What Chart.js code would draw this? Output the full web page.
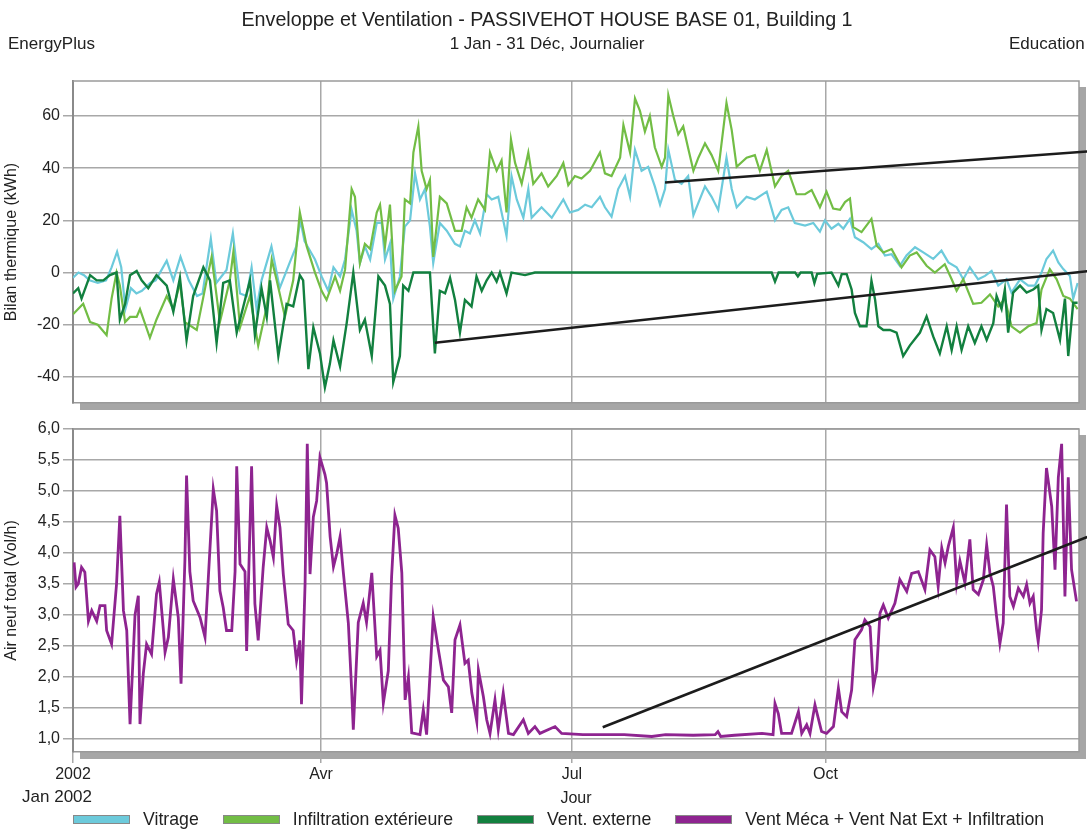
<!DOCTYPE html>
<html>
<head>
<meta charset="utf-8">
<script src="https://cdn.jsdelivr.net/npm/chart.js@4.4.1/dist/chart.umd.min.js"></script>
<style>
  body { margin: 0; background: #fff; font-family: "Liberation Sans", Arial, sans-serif; color: #222; }
  #wrap { position: relative; width: 1087px; height: 831px; overflow: hidden; }
  canvas { position: absolute; left: 0; top: 0; }
  .txt { position: absolute; white-space: nowrap; z-index: 2; }
  #title { top: 8px; left: 547px; transform: translateX(-50%); font-size: 19.7px; }
  #sub1 { top: 34px; left: 8px; font-size: 17px; }
  #sub2 { top: 34px; left: 547px; transform: translateX(-50%); font-size: 17px; }
  #sub3 { top: 34px; left: 1009px; font-size: 17px; }
  #jan { top: 787px; right: 995px; font-size: 17px; }
  #legend { position: absolute; top: 809px; left: 73px; display: flex; align-items: center; font-size: 17.7px; z-index: 2; }
  #legend .item { display: flex; align-items: center; margin-right: 24px; }
  #legend .box { width: 55px; height: 7px; border: 1px solid #888; margin-right: 13px; }
</style>
</head>
<body>
<div id="wrap">
  <canvas id="bottom" width="1087" height="831"></canvas>
  <canvas id="top" width="1087" height="831"></canvas>
  <div class="txt" id="title">Enveloppe et Ventilation - PASSIVEHOT HOUSE BASE 01, Building 1</div>
  <div class="txt" id="sub1">EnergyPlus</div>
  <div class="txt" id="sub2">1 Jan - 31 Déc, Journalier</div>
  <div class="txt" id="sub3">Education</div>
  <div class="txt" id="jan">Jan 2002</div>
  <div id="legend"></div>
</div>
<script>
// day of year, value
const tickDays = [0, 90, 181, 273];
const tickLabels = ['2002', 'Avr', 'Jul', 'Oct'];
const topTicks = [-40, -20, 0, 20, 40, 60];
const bottomTicks = [1, 1.5, 2, 2.5, 3, 3.5, 4, 4.5, 5, 5.5, 6];
const seriesNames = ['Vitrage', 'Infiltration extérieure', 'Vent. externe', 'Vent Méca + Vent Nat Ext + Infiltration'];
const seriesColors = ['#6ccadb', '#72bd45', '#12803f', '#8e2490'];

const vitrage = [[0,-2],[2,0],[4,-1],[6,-3],[9,-4],[12,-3],[14,2],[16,8],[17.5,2],[19,-14],[21,-6],[23,-8],[25,-7],[28,-4],[30,-3],[34,4.5],[36.4,-3],[39,6],[42,-3],[45,-9],[47,-8],[50,13],[52,-4],[55.7,1],[58,15],[60.6,-8],[63,-9],[64.8,2],[66.6,-14],[68.4,-3],[72,10],[75,-6],[78.7,4],[81,10],[82.5,20],[84,12],[87.8,5],[90.2,-1.5],[92.6,-7],[94.5,2],[96.9,-1.5],[98.7,5],[101.1,24],[102.9,16],[104.1,3.6],[105.9,10],[107.8,5],[110.2,19],[112,19],[113.2,5],[115,11],[116.2,-10],[118.6,-1.5],[120.4,17.6],[122.3,20],[124.1,38],[125.9,28],[127.7,32],[129.5,17.6],[130.7,3.6],[133.1,19],[135.6,16],[138.6,11],[140.4,10],[142.2,16],[144,15],[145.8,20],[147.7,15],[150.1,30],[151.9,28],[154.3,29],[157.3,14],[159.1,37],[161,28],[163.4,21],[165.2,32],[166.4,21],[170,25],[173.7,21],[177.9,28],[180.3,23],[183.3,24],[185.8,26],[188.2,25],[191.2,29],[193,25],[195.4,21.4],[197.8,32],[200.3,37],[202.1,29],[203.9,47],[206.3,39],[208.7,40.5],[211.1,33],[213,26],[214.8,32],[216,47],[218.4,35.5],[220.8,34],[223.2,37],[225.1,22],[229.3,33],[231.7,29],[234.1,24],[237.1,44],[239,32],[240.8,25],[244.4,29],[247.4,28],[251.7,31],[254.7,20],[257.1,24],[259.5,25],[261.9,19],[265.6,18],[268.6,19],[271,15.7],[272.8,20],[275.2,16.8],[277.7,18.7],[279.5,16.8],[281.9,20.6],[283.7,13.5],[286.7,11.6],[289.7,9],[292.2,11],[294.6,6.5],[297,7],[300,2.6],[302.4,6.5],[305.5,9.7],[308.5,7.7],[312.1,5.2],[315.1,8.4],[317.6,3.9],[320.6,2],[323,-2.6],[325.4,2],[328.4,-2.6],[330.9,-1.3],[333.3,0.6],[335.7,-5],[338.7,-2.6],[340.5,-7.7],[343.6,-2.6],[346.6,-5],[349,-5],[351.4,0],[353.2,5.2],[355.6,8.4],[357.5,3.9],[359.3,1.3],[361.7,-1.3],[362.9,-10],[364.5,-4]];

const infiltration = [[0,-16],[3.7,-12],[6.2,-19],[9,-20],[12.2,-24],[14,-10],[15.8,0],[17,-5],[18.9,-19],[20.7,-17],[23.1,-17],[24.3,-14],[27.9,-25],[30.3,-18],[34,-9],[36.4,-14],[38.8,-4],[40.6,-19],[44.9,-22],[48.5,-3],[50.3,6],[53.3,-19],[56.9,-3],[58.2,8],[60.6,-21],[64.2,-9],[67.2,-28],[70.3,-13],[72.1,5],[73.9,-3],[76.9,-17],[79.9,-3],[82.3,23],[84.8,10],[87.8,0],[90.2,-7],[92,-10.5],[95.1,-1.5],[96.9,-7],[98.7,1],[101.1,32],[102.3,29],[104.1,3.6],[105.9,11],[107.8,9],[110.2,23],[111.4,26],[113.2,10],[115,26],[116.8,-7],[119.2,-1.5],[120.4,28],[122.3,26.5],[123.5,46],[125.3,56],[126.5,39],[128.3,32],[129.5,35.5],[130.7,6],[133.1,29],[135.6,26.5],[138.6,16],[141,16],[142.8,25],[144.6,21],[147,28],[149.5,24],[151.3,46],[153.7,39],[155.5,43],[157.3,23],[158.9,51],[160.4,42],[162.8,34],[165.2,46],[167,34],[170,38],[172.4,33],[175.5,37],[177.9,42],[179.7,33.5],[182.1,37],[184.5,36],[187.6,39],[191.2,46],[193,38],[195.4,37],[198.5,44],[199.7,56.5],[202.1,46],[203.9,66.7],[205.7,62],[207.5,54],[209.3,60],[211.1,48],[213.6,40.5],[214.8,44],[216,68],[217.8,60],[219.6,53],[221.4,56],[223.2,47.6],[225.1,39],[226.9,44],[229.3,49.5],[231.7,45],[234.1,39],[237.1,65],[239,54.6],[240.8,40.5],[244.4,44],[247.4,45],[249.2,39],[251.7,47],[254.7,33],[257.1,37],[259.5,39],[262.5,30],[265.6,30],[268,31.6],[271,25],[273.4,31],[275.8,24.5],[278.3,24],[280.1,27],[281.9,28.4],[283.1,17.4],[286.1,15.5],[289.7,20.6],[291.6,10.3],[294,7.7],[297,9],[300.6,2],[303.6,6.5],[306.1,7.7],[309.7,2.6],[312.7,0],[316.3,3.2],[318.8,-2.6],[320.6,-7],[323,-2.6],[326.6,-12],[329.6,-11.6],[332.7,-8.4],[335.7,-13],[338.1,-10],[340.5,-20.6],[343.6,-23],[346.6,-20.6],[349.6,-19.4],[351.4,-6.5],[354.4,1.3],[356.9,-2.6],[359.3,-9],[361.7,-10],[364.5,-14]];

const ventExterne = [[0,-8],[1.9,-6],[3.1,-10],[6.2,-1],[8.6,-3],[11,-3],[13.4,-1],[15.8,0],[17,-18],[18.9,-12],[20.7,-1],[23.1,0.6],[24.9,-3],[27.3,-6],[30.3,-1],[34,-5],[36.4,-15],[38.8,-2],[41.2,-26],[43.6,-9],[47.3,2],[49.7,-3],[52.1,-27],[54.5,-4],[56.9,-3],[59.4,-23],[61.8,-13],[64.2,-3],[66,-24],[68.4,-6],[70.3,-17],[71.5,-3],[74.5,-32],[77.5,-12],[79.9,-13],[82.3,-1],[83.5,-3],[85.4,-37],[87.2,-21],[89.6,-31],[91.4,-44],[93.2,-35],[94.5,-26],[96.9,-36],[99.3,-19.4],[101.7,0],[104.1,-22],[105.9,-18],[108.4,-32],[110.8,-1.5],[113.2,-5],[115,-12],[116.2,-42],[118.6,-32],[119.8,-5],[121.7,-7],[123.5,0],[126.5,0],[129.5,0],[131.3,-31],[133.1,-7],[135,-8],[136.8,-2],[138.6,-10.5],[140.4,-23],[142.2,-10.5],[144.6,-13],[146.4,-1.5],[148.3,-7],[150.1,-3],[151.9,0],[153.7,-3.5],[154.9,0],[157.3,-8],[159.1,0],[164,-1],[167.6,0],[200,0],[230,0],[253.5,0],[254.7,-3.5],[256,0],[262,0],[263,-1.5],[264,0],[268,0],[269,-4],[270,-0.5],[275.2,0],[277.7,-5],[278.9,-0.6],[280.7,-0.6],[282.5,-6.5],[283.7,-15.5],[285.5,-20.6],[287.9,-20.6],[289.7,-3.2],[291,-10.3],[292.2,-20.6],[294,-22],[296.4,-22],[298.8,-23],[301.2,-32],[303.6,-28],[307.3,-23],[309.7,-16.8],[312.1,-24.5],[314.5,-31],[317,-20.6],[318.8,-29.7],[320.6,-20.6],[322.4,-29.7],[324.8,-20.6],[327.2,-27],[329.6,-20.6],[331.5,-25.8],[333.9,-19.4],[335.1,-9],[336.9,-14],[338.1,-6.5],[339.3,-23],[341.1,-7.7],[343.6,-5],[346,-7.7],[348.4,-6.5],[350.2,-5],[351.4,-22],[353.2,-14],[355.6,-15.5],[358.1,-25.8],[359.9,-10],[361.1,-32],[362.9,-11.6],[364.5,-11.6]];

const airNeuf = [[0.4,3.85],[1.1,3.45],[1.9,3.5],[3.1,3.77],[4.3,3.69],[5.6,2.9],[6.8,3.07],[8.6,2.9],[9.8,3.15],[11.6,3.15],[12.2,2.75],[14,2.53],[15.8,3.5],[17,4.6],[18.3,3.07],[19.5,2.75],[20.7,1.24],[22.5,3.0],[23.7,3.31],[24.3,1.24],[25.5,2.05],[26.7,2.53],[28.5,2.37],[30.3,3.34],[31.3,3.53],[32.8,2.75],[33.4,2.4],[34.6,2.64],[36.4,3.58],[38.2,2.96],[39.2,1.89],[40.6,3.88],[41.2,5.25],[42.4,3.7],[43.6,3.23],[46.1,2.96],[47.9,2.64],[49.1,3.6],[50.9,5.03],[52.1,4.68],[53.3,3.39],[54.5,3.12],[55.7,2.75],[57.6,2.75],[58.8,3.7],[59.4,5.4],[60.6,3.82],[62.4,3.7],[63,2.42],[64.8,5.4],[66,3.18],[67.2,2.59],[69,3.77],[70.3,4.41],[71.5,4.2],[72.7,3.93],[73.9,4.76],[75.1,4.41],[76.3,3.66],[78.1,2.85],[79.9,2.75],[81.1,2.26],[82.3,2.59],[82.9,1.56],[84.2,3.5],[85,5.76],[86,3.66],[87.2,4.58],[88.4,4.84],[89.6,5.54],[91.4,5.27],[92,5.13],[93.3,4.26],[94.5,3.78],[95.7,3.99],[96.9,4.26],[98.1,3.68],[99.9,2.87],[101.1,1.79],[101.7,1.15],[103.5,2.88],[105.3,3.19],[106.5,2.88],[108.4,3.68],[110.2,2.33],[111.4,2.43],[112.6,1.58],[114.4,2.1],[115.6,3.62],[116.8,4.61],[118,4.4],[119.3,3.68],[120.5,1.63],[121.7,2.0],[122.9,1.1],[125.9,1.07],[127.1,1.47],[128.3,1.07],[130.7,2.97],[132.6,2.43],[134.4,1.95],[136.2,1.84],[137.4,1.42],[138.6,2.6],[140.4,2.84],[142.2,2.22],[143.4,2.27],[144.7,1.74],[146.5,1.28],[147.1,2.11],[148.9,1.68],[150.1,1.31],[151.3,1.09],[153.1,1.63],[154.3,1.15],[156.1,1.74],[158,1.09],[159.8,1.07],[163.4,1.31],[165.2,1.09],[167.6,1.2],[169.4,1.09],[174.9,1.2],[177.3,1.09],[185,1.07],[200,1.07],[210,1.04],[215,1.07],[225,1.06],[233,1.07],[234,1.12],[235,1.04],[240,1.06],[250,1.09],[254,1.07],[254.7,1.57],[255.9,1.41],[257.1,1.09],[260.7,1.09],[263.2,1.44],[264.4,1.09],[266.2,1.23],[267.4,1.09],[269.2,1.55],[271.6,1.12],[273.4,1.09],[275.9,1.2],[277.7,1.82],[278.9,1.44],[280.7,1.36],[282.5,1.79],[283.7,2.6],[286.1,2.76],[287.3,2.92],[289.2,2.81],[290.4,1.84],[291.6,2.11],[292.8,3.03],[294,3.16],[295.8,2.95],[298.2,3.19],[300,3.57],[302.5,3.38],[304.3,3.67],[306.7,3.7],[309.1,3.41],[310.9,4.05],[312.7,3.94],[313.9,3.46],[315.2,4.08],[316.4,3.84],[317.6,4.11],[319.4,4.41],[320.6,3.52],[321.8,3.87],[323.6,3.52],[325.4,4.22],[326.6,3.41],[328.5,3.33],[330.3,3.57],[331.5,4.13],[332.7,3.67],[333.9,3.46],[335.1,2.97],[336.3,2.54],[337.5,2.87],[338.7,4.78],[339.9,3.3],[341.2,3.14],[343,3.43],[344.8,3.3],[346,3.49],[347.2,3.19],[348.4,3.3],[349.6,2.76],[350.2,2.57],[351.4,3.08],[352,4.32],[353.2,5.37],[355.1,4.75],[356.3,3.73],[357.5,5.22],[358.7,5.76],[359.9,3.3],[361.1,5.22],[362.3,3.73],[364.1,3.22]];

// hand drawn black lines: [day1, value1, day2, value2]
const trendTop = [[214.8, 34.5, 368, 46.4], [131.3, -26.9, 368, 0.5]];
const trendBottom = [[192.2, 1.19, 368, 4.26]];

const toXY = arr => arr.map(p => ({x: p[0], y: p[1]}));

const framePlugin = {
  id: 'frame',
  beforeDraw(chart) {
    const {ctx, chartArea: a} = chart;
    ctx.save();
    ctx.fillStyle = '#a6a6a6';
    ctx.fillRect(a.right, a.top + 6, 7, a.height + 1);
    ctx.fillRect(a.left + 7, a.bottom, a.width, 7);
    ctx.fillStyle = '#fff';
    ctx.fillRect(a.left, a.top, a.width, a.height);
    ctx.restore();
  },
  afterDatasetsDraw(chart, args, opts) {
    const {ctx, chartArea: a, scales} = chart;
    ctx.save();
    ctx.strokeStyle = '#9a9a9a';
    ctx.lineWidth = 1.5;
    ctx.beginPath();
    ctx.moveTo(a.left, a.top);
    ctx.lineTo(a.right, a.top);
    ctx.lineTo(a.right, a.bottom);
    ctx.stroke();
    ctx.strokeStyle = '#1c1c1c';
    ctx.lineWidth = 2.6;
    (opts.lines || []).forEach(l => {
      ctx.beginPath();
      ctx.moveTo(scales.x.getPixelForValue(l[0]), scales.y.getPixelForValue(l[1]));
      ctx.lineTo(scales.x.getPixelForValue(l[2]), scales.y.getPixelForValue(l[3]));
      ctx.stroke();
    });
    ctx.restore();
  }
};

const tickFont = {family: '"Liberation Sans", Arial, sans-serif', size: 16};
const titleFont = {family: '"Liberation Sans", Arial, sans-serif', size: 16};

function xScale(showLabels) {
  return {
    type: 'linear',
    min: 0,
    max: 365,
    afterBuildTicks: s => { s.ticks = tickDays.map(v => ({value: v})); },
    afterFit: s => { s.height = showLabels ? 60 : 0; },
    grid: {color: '#a8a8a8', lineWidth: 1.5, drawTicks: showLabels, tickLength: 11},
    border: {color: '#999', width: 1.5},
    ticks: {
      display: showLabels,
      autoSkip: false,
      maxRotation: 0,
      padding: 2,
      color: '#222',
      font: tickFont,
      callback: v => tickLabels[tickDays.indexOf(v)] ?? ''
    },
    title: {display: showLabels, text: 'Jour', color: '#222', font: titleFont, padding: {top: 0, bottom: 4}}
  };
}

function yScale(min, max, ticks, label, fmt) {
  return {
    min: min,
    max: max,
    afterBuildTicks: s => { s.ticks = ticks.map(v => ({value: v})); },
    afterFit: s => { s.width = 73; },
    grid: {color: '#a8a8a8', lineWidth: 1.5, tickLength: 10},
    border: {color: '#8a8a8a', width: 2},
    ticks: {color: '#222', font: tickFont, padding: 3, callback: fmt},
    title: {display: true, text: label, color: '#222', font: titleFont, padding: {top: 2, bottom: 0}}
  };
}

const lineDefaults = {pointRadius: 0, tension: 0, fill: false};

new Chart(document.getElementById('top'), {
  type: 'line',
  data: {
    datasets: [
      {...lineDefaults, label: seriesNames[0], data: toXY(vitrage), borderColor: seriesColors[0], borderWidth: 2.2, order: 3},
      {...lineDefaults, label: seriesNames[1], data: toXY(infiltration), borderColor: seriesColors[1], borderWidth: 2.2, order: 2},
      {...lineDefaults, label: seriesNames[2], data: toXY(ventExterne), borderColor: seriesColors[2], borderWidth: 2.4, order: 1}
    ]
  },
  options: {
    responsive: false,
    animation: false,
    layout: {padding: {top: 81, right: 8, bottom: 428, left: 0}},
    scales: {
      x: xScale(false),
      y: yScale(-50, 73.4, topTicks, 'Bilan thermique (kWh)', v => String(v))
    },
    plugins: {legend: {display: false}, tooltip: {enabled: false}, frame: {lines: trendTop}}
  },
  plugins: [framePlugin]
});

new Chart(document.getElementById('bottom'), {
  type: 'line',
  data: {
    datasets: [
      {...lineDefaults, label: seriesNames[3], data: toXY(airNeuf), borderColor: seriesColors[3], borderWidth: 2.8}
    ]
  },
  options: {
    responsive: false,
    animation: false,
    layout: {padding: {top: 429, right: 8, bottom: 19, left: 0}},
    scales: {
      x: xScale(true),
      y: yScale(0.79, 6, bottomTicks, 'Air neuf total (Vol/h)', v => v.toFixed(1).replace('.', ','))
    },
    plugins: {legend: {display: false}, tooltip: {enabled: false}, frame: {lines: trendBottom}}
  },
  plugins: [framePlugin]
});

// legend along the bottom
const legend = document.getElementById('legend');
seriesNames.forEach((name, i) => {
  const item = document.createElement('div');
  item.className = 'item';
  const box = document.createElement('span');
  box.className = 'box';
  box.style.background = seriesColors[i];
  const label = document.createElement('span');
  label.textContent = name;
  item.appendChild(box);
  item.appendChild(label);
  legend.appendChild(item);
});
</script>
</body>
</html>
